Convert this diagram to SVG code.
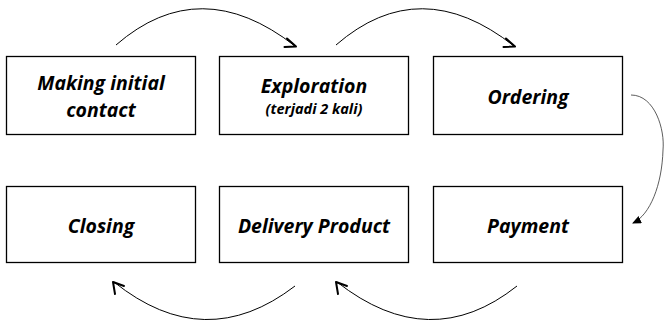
<svg xmlns="http://www.w3.org/2000/svg" width="665" height="321" viewBox="0 0 665 321">
<style>
.box{fill:#fff;stroke:#000;stroke-width:1.3}
.t{font-family:"Open Sans","Noto Sans",sans-serif;font-weight:bold;font-style:italic;font-size:19.5px;text-anchor:middle;fill:#000}
.s{font-size:14.5px}
.c{fill:none;stroke:#000;stroke-width:1}
.c2{fill:none;stroke:#333;stroke-width:0.8}
.ah{fill:none;stroke:#000;stroke-width:2;stroke-linecap:round;stroke-linejoin:round}
</style>
<defs>
<marker id="tri" markerWidth="10" markerHeight="10" refX="8" refY="4" orient="auto" markerUnits="userSpaceOnUse">
<path d="M0,0 L9,4 L0,8 Z" fill="#000"/>
</marker>
</defs>
<rect width="665" height="321" fill="#fff"/>
<g id="n1"><rect class="box" x="6.5" y="56.5" width="189" height="78"/><text class="t" x="101" y="90">Making initial</text><text class="t" x="101" y="117">contact</text></g>
<g id="n2"><rect class="box" x="219.5" y="56.5" width="189" height="78"/><text class="t" x="314" y="93">Exploration</text><text class="t s" x="314" y="114">(terjadi 2 kali)</text></g>
<g id="n3"><rect class="box" x="433.5" y="56.5" width="189" height="78"/><text class="t" x="528" y="104">Ordering</text></g>
<g id="n4"><rect class="box" x="6.5" y="186.5" width="189" height="76"/><text class="t" x="101" y="233">Closing</text></g>
<g id="n5"><rect class="box" x="219.5" y="186.5" width="189" height="76"/><text class="t" x="314" y="233">Delivery Product</text></g>
<g id="n6"><rect class="box" x="433.5" y="186.5" width="189" height="76"/><text class="t" x="528" y="233">Payment</text></g>
<g id="connectors">
<path class="c" d="M116,45 Q200,-28 295,46"/>
<path class="ah" d="M287,38.5 L296,46.5 L284.5,47"/>
<path class="c" d="M336,45 Q420,-28 514,46"/>
<path class="ah" d="M506,38.5 L515,46.5 L503.5,47"/>
<path class="c2" d="M631,95 C655,95 665,130 663,150 C662,185 650,215 633,223" marker-end="url(#tri)"/>
<path class="c" d="M517,286 Q430,355 337,282"/>
<path class="ah" d="M338,294 L336,282 L347,286"/>
<path class="c" d="M295,286 Q205,355 114,282"/>
<path class="ah" d="M115,294 L113,282 L124,286"/>
</g>
</svg>
